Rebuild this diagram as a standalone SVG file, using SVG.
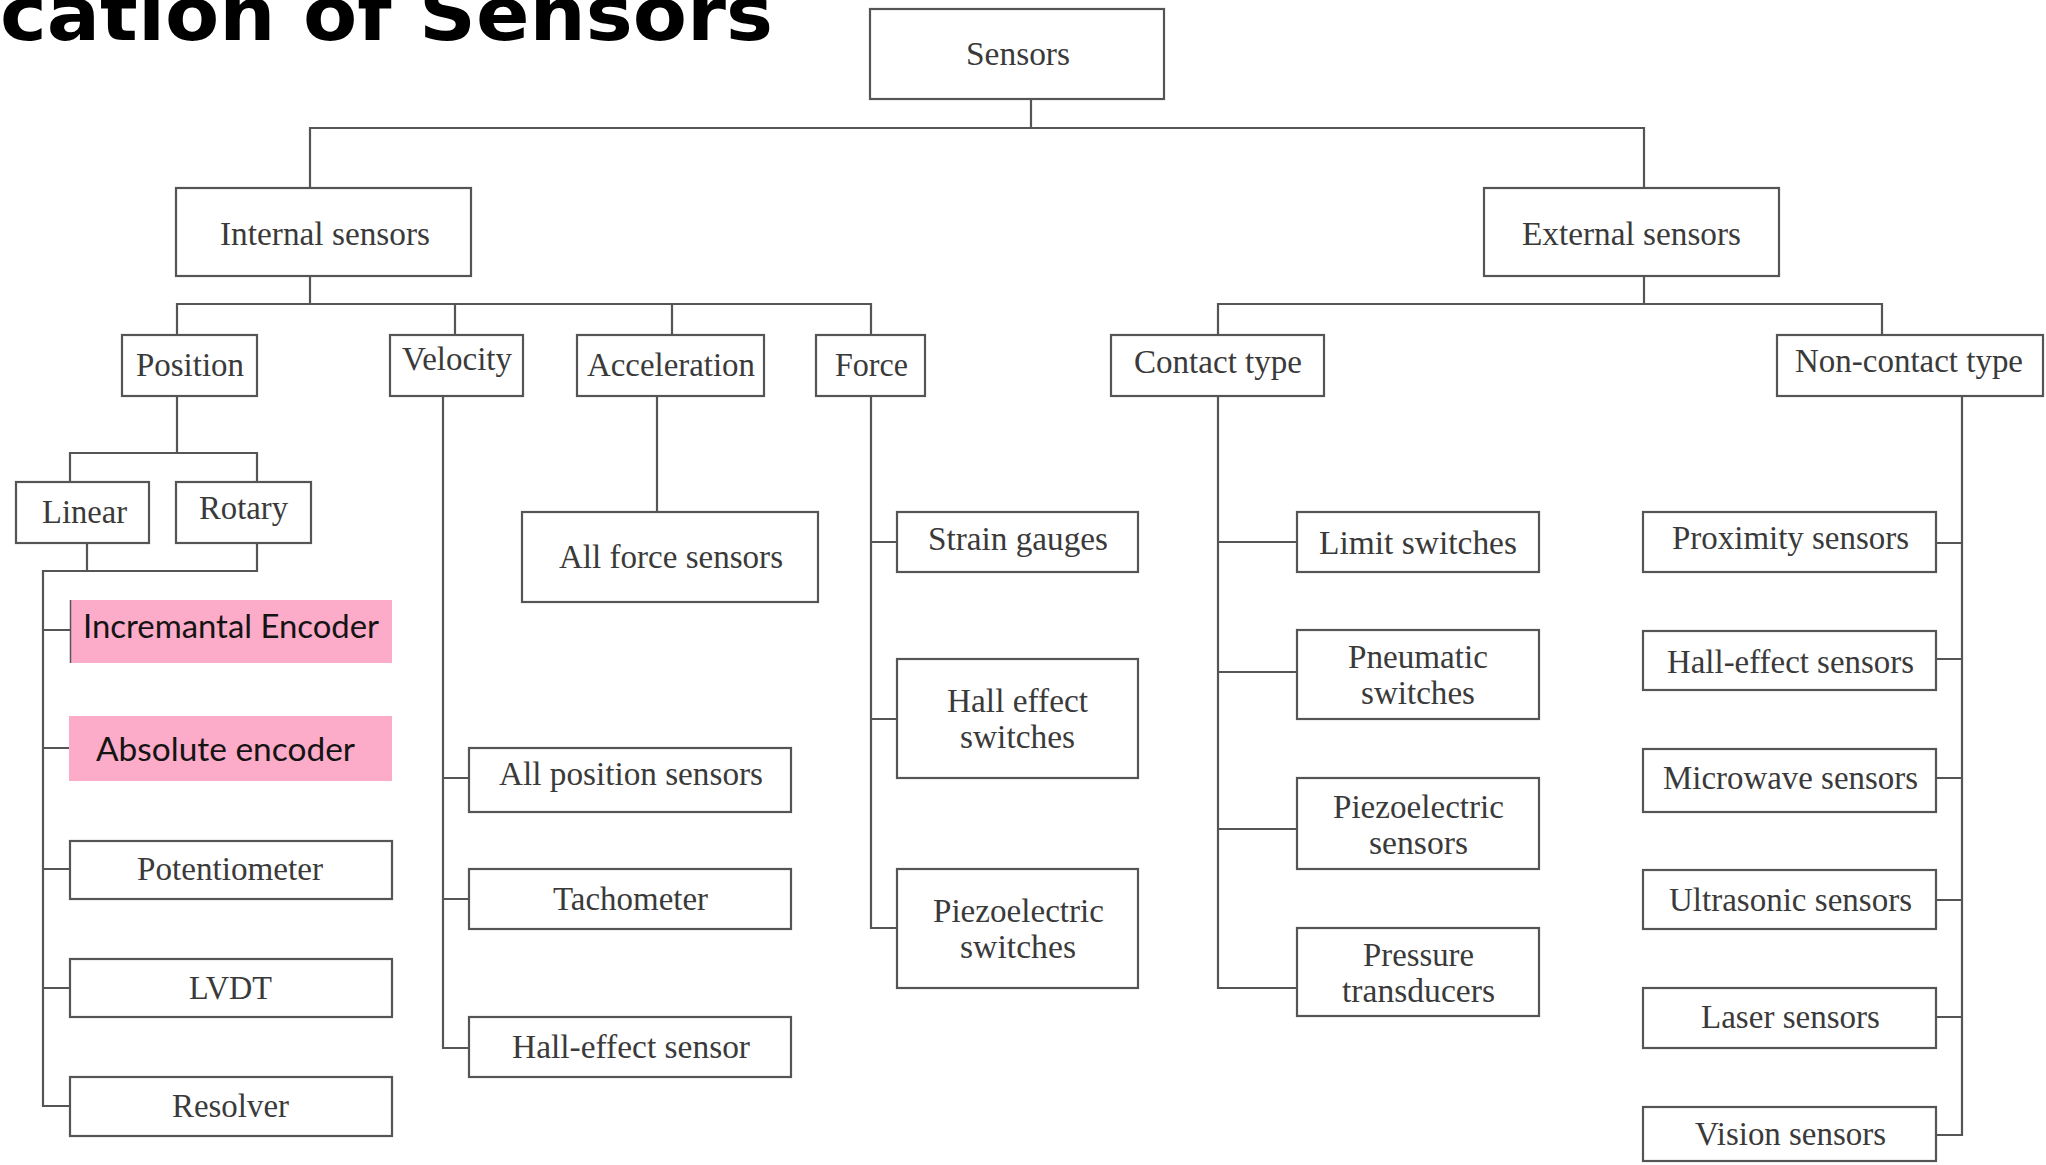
<svg xmlns="http://www.w3.org/2000/svg" width="2046" height="1165" viewBox="0 0 2046 1165">
  <style>
    .bg { fill: #ffffff; }
    .box { fill: #ffffff; stroke: #555555; stroke-width: 2.2; }
    .hl { fill: #fcabc8; }
    .hl-edge { stroke: #555555; stroke-width: 1.5; }
    .lbl { font-family: "Liberation Serif", "Times New Roman", serif; font-size: 34px; fill: #3a3a3a; }
    .hlt { font-family: Lato, "Open Sans", "Liberation Sans", sans-serif; font-size: 33px; fill: #141414; }
    .title { font-family: "DejaVu Sans", "Liberation Sans", sans-serif; font-weight: bold; font-size: 74px; fill: #000000; }
    .wire { fill: none; stroke: #555555; stroke-width: 2.2; }
  </style>

  <rect class="bg" x="0" y="0" width="2046" height="1165"/>

  <text class="title" x="0" y="40" textLength="773" lengthAdjust="spacingAndGlyphs">cation of Sensors</text>

  <!-- tree connectors -->
  <g id="connectors">
    <path class="wire" d="M1031 99 V128 M310 188 V128 H1644 V188"/>
    <path class="wire" d="M310 276 V304 M177 335 V304 H871 V335 M455 304 V335 M672 304 V335"/>
    <path class="wire" d="M1644 276 V304 M1218 335 V304 H1882 V335"/>
    <path class="wire" d="M177 396 V453 M70 482 V453 H257 V482"/>
    <path class="wire" d="M87 543 V571 M257 543 V571 H43 V1106 H70 M43 630 H70 M43 748 H70 M43 869 H70 M43 988 H70"/>
    <path class="wire" d="M443 396 V1048 H469 M443 778 H469 M443 899 H469"/>
    <path class="wire" d="M657 396 V512"/>
    <path class="wire" d="M871 396 V928 H897 M871 542 H897 M871 719 H897"/>
    <path class="wire" d="M1218 396 V988 H1297 M1218 542 H1297 M1218 672 H1297 M1218 829 H1297"/>
    <path class="wire" d="M1962 396 V1135 H1936 M1962 543 H1936 M1962 659 H1936 M1962 778 H1936 M1962 900 H1936 M1962 1017 H1936"/>
  </g>

  <!-- root and first level -->
  <g id="sensors">
    <rect class="box" x="870" y="9" width="294" height="90"/>
    <text class="lbl" x="966" y="65" textLength="104" lengthAdjust="spacingAndGlyphs">Sensors</text>
  </g>
  <g id="internal">
    <rect class="box" x="176" y="188" width="295" height="88"/>
    <text class="lbl" x="220" y="245" textLength="210" lengthAdjust="spacingAndGlyphs">Internal sensors</text>
  </g>
  <g id="external">
    <rect class="box" x="1484" y="188" width="295" height="88"/>
    <text class="lbl" x="1522" y="245" textLength="219" lengthAdjust="spacingAndGlyphs">External sensors</text>
  </g>

  <!-- second level -->
  <g id="position">
    <rect class="box" x="122" y="335" width="135" height="61"/>
    <text class="lbl" x="136" y="376" textLength="108" lengthAdjust="spacingAndGlyphs">Position</text>
  </g>
  <g id="velocity">
    <rect class="box" x="390" y="335" width="133" height="61"/>
    <text class="lbl" x="402" y="370" textLength="110" lengthAdjust="spacingAndGlyphs">Velocity</text>
  </g>
  <g id="acceleration">
    <rect class="box" x="577" y="335" width="187" height="61"/>
    <text class="lbl" x="587" y="376" textLength="168" lengthAdjust="spacingAndGlyphs">Acceleration</text>
  </g>
  <g id="force">
    <rect class="box" x="816" y="335" width="109" height="61"/>
    <text class="lbl" x="835" y="376" textLength="73" lengthAdjust="spacingAndGlyphs">Force</text>
  </g>
  <g id="contact">
    <rect class="box" x="1111" y="335" width="213" height="61"/>
    <text class="lbl" x="1134" y="373" textLength="168" lengthAdjust="spacingAndGlyphs">Contact type</text>
  </g>
  <g id="noncontact">
    <rect class="box" x="1777" y="335" width="266" height="61"/>
    <text class="lbl" x="1795" y="372" textLength="228" lengthAdjust="spacingAndGlyphs">Non-contact type</text>
  </g>

  <!-- position branch -->
  <g id="linear">
    <rect class="box" x="16" y="482" width="133" height="61"/>
    <text class="lbl" x="42" y="523" textLength="85" lengthAdjust="spacingAndGlyphs">Linear</text>
  </g>
  <g id="rotary">
    <rect class="box" x="176" y="482" width="135" height="61"/>
    <text class="lbl" x="199" y="519" textLength="89" lengthAdjust="spacingAndGlyphs">Rotary</text>
  </g>
  <g id="incremental-encoder">
    <rect class="hl" x="70" y="600" width="322" height="63"/>
    <line class="hl-edge" x1="70.5" y1="600" x2="70.5" y2="663"/>
    <text class="hlt" x="83" y="638" textLength="296" lengthAdjust="spacingAndGlyphs">Incremantal Encoder</text>
  </g>
  <g id="absolute-encoder">
    <rect class="hl" x="69" y="716" width="323" height="65"/>
    <text class="hlt" x="96" y="761" textLength="259" lengthAdjust="spacingAndGlyphs">Absolute encoder</text>
  </g>
  <g id="potentiometer">
    <rect class="box" x="70" y="841" width="322" height="58"/>
    <text class="lbl" x="137" y="880" textLength="186" lengthAdjust="spacingAndGlyphs">Potentiometer</text>
  </g>
  <g id="lvdt">
    <rect class="box" x="70" y="959" width="322" height="58"/>
    <text class="lbl" x="189" y="999" textLength="83" lengthAdjust="spacingAndGlyphs">LVDT</text>
  </g>
  <g id="resolver">
    <rect class="box" x="70" y="1077" width="322" height="59"/>
    <text class="lbl" x="172" y="1117" textLength="117" lengthAdjust="spacingAndGlyphs">Resolver</text>
  </g>

  <!-- velocity branch -->
  <g id="all-position-sensors">
    <rect class="box" x="469" y="748" width="322" height="64"/>
    <text class="lbl" x="499" y="785" textLength="264" lengthAdjust="spacingAndGlyphs">All position sensors</text>
  </g>
  <g id="tachometer">
    <rect class="box" x="469" y="869" width="322" height="60"/>
    <text class="lbl" x="553" y="910" textLength="155" lengthAdjust="spacingAndGlyphs">Tachometer</text>
  </g>
  <g id="hall-effect-sensor">
    <rect class="box" x="469" y="1017" width="322" height="60"/>
    <text class="lbl" x="512" y="1058" textLength="238" lengthAdjust="spacingAndGlyphs">Hall-effect sensor</text>
  </g>

  <!-- acceleration branch -->
  <g id="all-force-sensors">
    <rect class="box" x="522" y="512" width="296" height="90"/>
    <text class="lbl" x="559" y="568" textLength="224" lengthAdjust="spacingAndGlyphs">All force sensors</text>
  </g>

  <!-- force branch -->
  <g id="strain-gauges">
    <rect class="box" x="897" y="512" width="241" height="60"/>
    <text class="lbl" x="928" y="550" textLength="180" lengthAdjust="spacingAndGlyphs">Strain gauges</text>
  </g>
  <g id="hall-effect-switches">
    <rect class="box" x="897" y="659" width="241" height="119"/>
    <text class="lbl" x="947" y="712" textLength="141" lengthAdjust="spacingAndGlyphs">Hall effect</text>
    <text class="lbl" x="960" y="748" textLength="115" lengthAdjust="spacingAndGlyphs">switches</text>
  </g>
  <g id="piezoelectric-switches">
    <rect class="box" x="897" y="869" width="241" height="119"/>
    <text class="lbl" x="933" y="922" textLength="171" lengthAdjust="spacingAndGlyphs">Piezoelectric</text>
    <text class="lbl" x="960" y="958" textLength="116" lengthAdjust="spacingAndGlyphs">switches</text>
  </g>

  <!-- contact branch -->
  <g id="limit-switches">
    <rect class="box" x="1297" y="512" width="242" height="60"/>
    <text class="lbl" x="1319" y="554" textLength="198" lengthAdjust="spacingAndGlyphs">Limit switches</text>
  </g>
  <g id="pneumatic-switches">
    <rect class="box" x="1297" y="630" width="242" height="89"/>
    <text class="lbl" x="1348" y="668" textLength="140" lengthAdjust="spacingAndGlyphs">Pneumatic</text>
    <text class="lbl" x="1361" y="704" textLength="114" lengthAdjust="spacingAndGlyphs">switches</text>
  </g>
  <g id="piezoelectric-sensors">
    <rect class="box" x="1297" y="778" width="242" height="91"/>
    <text class="lbl" x="1333" y="818" textLength="171" lengthAdjust="spacingAndGlyphs">Piezoelectric</text>
    <text class="lbl" x="1369" y="854" textLength="99" lengthAdjust="spacingAndGlyphs">sensors</text>
  </g>
  <g id="pressure-transducers">
    <rect class="box" x="1297" y="928" width="242" height="88"/>
    <text class="lbl" x="1363" y="966" textLength="111" lengthAdjust="spacingAndGlyphs">Pressure</text>
    <text class="lbl" x="1342" y="1002" textLength="153" lengthAdjust="spacingAndGlyphs">transducers</text>
  </g>

  <!-- non-contact branch -->
  <g id="proximity-sensors">
    <rect class="box" x="1643" y="512" width="293" height="60"/>
    <text class="lbl" x="1672" y="549" textLength="237" lengthAdjust="spacingAndGlyphs">Proximity sensors</text>
  </g>
  <g id="hall-effect-sensors">
    <rect class="box" x="1643" y="631" width="293" height="59"/>
    <text class="lbl" x="1667" y="673" textLength="247" lengthAdjust="spacingAndGlyphs">Hall-effect sensors</text>
  </g>
  <g id="microwave-sensors">
    <rect class="box" x="1643" y="749" width="293" height="63"/>
    <text class="lbl" x="1663" y="789" textLength="255" lengthAdjust="spacingAndGlyphs">Microwave sensors</text>
  </g>
  <g id="ultrasonic-sensors">
    <rect class="box" x="1643" y="870" width="293" height="59"/>
    <text class="lbl" x="1669" y="911" textLength="243" lengthAdjust="spacingAndGlyphs">Ultrasonic sensors</text>
  </g>
  <g id="laser-sensors">
    <rect class="box" x="1643" y="988" width="293" height="60"/>
    <text class="lbl" x="1701" y="1028" textLength="179" lengthAdjust="spacingAndGlyphs">Laser sensors</text>
  </g>
  <g id="vision-sensors">
    <rect class="box" x="1643" y="1107" width="293" height="54"/>
    <text class="lbl" x="1695" y="1145" textLength="191" lengthAdjust="spacingAndGlyphs">Vision sensors</text>
  </g>
</svg>
